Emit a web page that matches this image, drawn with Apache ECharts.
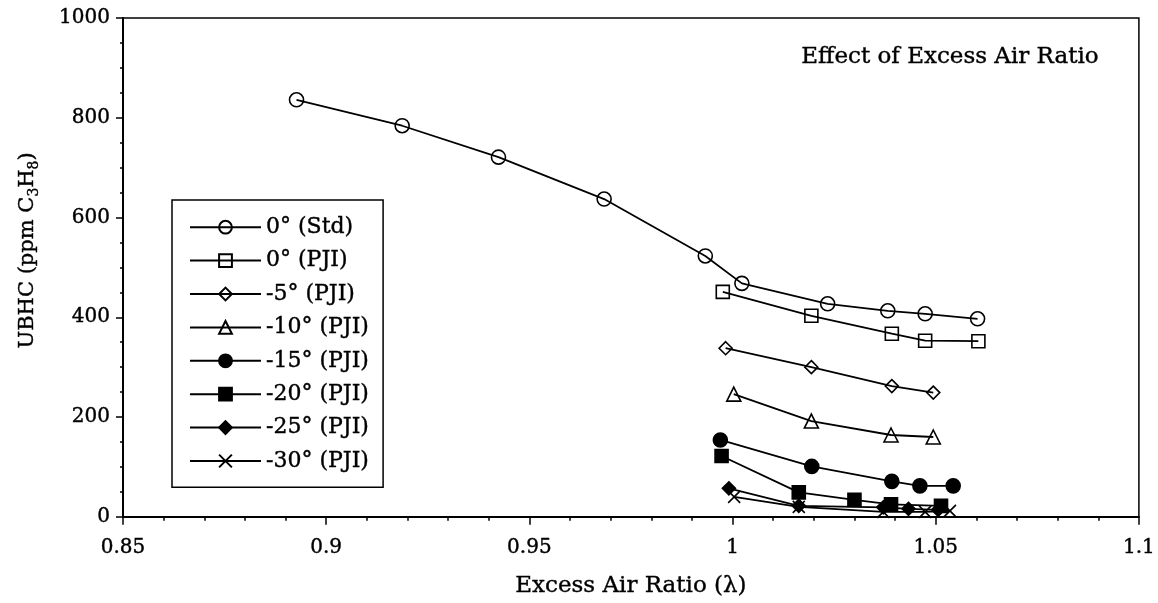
<!DOCTYPE html>
<html>
<head>
<meta charset="utf-8">
<script src="https://cdn.jsdelivr.net/npm/echarts@6/dist/echarts.min.js"></script>
<style>
  html, body { margin: 0; background: #fff; }
  #chart { width: 1158px; height: 603px; }
</style>
</head>
<body>
<div id="chart"></div>
<script>
// data
const seriesNames = ['0° (Std)', '0° (PJI)', '-5° (PJI)', '-10° (PJI)', '-15° (PJI)', '-20° (PJI)', '-25° (PJI)', '-30° (PJI)'];

const std0X = [0.8927, 0.9187, 0.9424, 0.9684, 0.9933, 1.0023, 1.0234, 1.0382, 1.0474, 1.0603];
const std0Y = [836, 784, 721, 637, 523, 468, 427, 413, 407, 397];

const pji0X = [0.9976, 1.0194, 1.0392, 1.0474, 1.0605];
const pji0Y = [451, 403, 367, 353, 352];

const pji5X = [0.9983, 1.0194, 1.0392, 1.0494];
const pji5Y = [338, 300, 262, 249];

const pji10X = [1.0003, 1.0194, 1.039, 1.0494];
const pji10Y = [246, 192, 164, 160];

const pji15X = [0.997, 1.0195, 1.0392, 1.0461, 1.0543];
const pji15Y = [154, 101, 71, 62, 62];

const pji20X = [0.9973, 1.0163, 1.03, 1.039, 1.0513];
const pji20Y = [122, 49, 34, 25, 22];

const pji25X = [0.9991, 1.0163, 1.0371, 1.0433, 1.0506];
const pji25Y = [57, 22, 19, 16, 14];

const pji30X = [1.0004, 1.0163, 1.0371, 1.0474, 1.0535];
const pji30Y = [40, 20, 10, 10, 12];

const xTicks = ['0.85', '0.9', '0.95', '1', '1.05', '1.1'];
const yTicks = ['0', '200', '400', '600', '800', '1000'];

const FONT = 'DejaVu Serif';
const clear = 'rgba(255,255,255,0)';
const crossPath = 'path://M0,0L10,10M10,0L0,10';
// scanned text looks a bit heavier than regular weight
const heavy = { textBorderColor: '#000', textBorderWidth: 0.4 };

function pairs(xs, ys) {
  let out = [];
  for (let i = 0; i < xs.length; i++) out.push([xs[i], ys[i]]);
  return out;
}

// symbol, size, filled?
const looks = [
  ['circle', 14, false],
  ['rect', 13, false],
  ['diamond', 13, false],
  ['triangle', 14, false],
  ['circle', 14, true],
  ['rect', 13, true],
  ['diamond', 13, true],
  [crossPath, 12, false]
];
const allData = [
  pairs(std0X, std0Y), pairs(pji0X, pji0Y), pairs(pji5X, pji5Y), pairs(pji10X, pji10Y),
  pairs(pji15X, pji15Y), pairs(pji20X, pji20Y), pairs(pji25X, pji25Y), pairs(pji30X, pji30Y)
];

let series = [];
for (let i = 0; i < seriesNames.length; i++) {
  series.push({
    name: seriesNames[i],
    type: 'line',
    data: allData[i],
    symbol: looks[i][0],
    symbolSize: looks[i][1],
    showAllSymbol: true,
    lineStyle: { color: '#000', width: 1.8 },
    itemStyle: {
      color: looks[i][2] ? '#000' : clear,
      borderColor: '#000',
      borderWidth: 1.6
    },
    emphasis: { disabled: true },
    z: 10 - i
  });
}

const myChart = echarts.init(document.getElementById('chart'));
const option = {
  animation: false,
  title: {
    text: 'Effect of Excess Air Ratio',
    right: 54,
    top: 41,
    textStyle: Object.assign({ fontFamily: FONT, fontSize: 23, fontWeight: 'normal', color: '#000' }, heavy)
  },
  legend: {
    orient: 'vertical',
    left: 172,
    top: 200,
    padding: [16, 14, 15, 17],
    borderColor: '#000',
    borderWidth: 1.5,
    itemWidth: 71,
    itemHeight: 16,
    itemGap: 11,
    selectedMode: false,
    data: seriesNames,
    textStyle: Object.assign({ fontFamily: FONT, fontSize: 22, color: '#000', lineHeight: 22 }, heavy)
  },
  grid: {
    left: 123,
    right: 17,
    top: 18,
    bottom: 86,
    show: true,
    borderColor: '#000',
    borderWidth: 1.5
  },
  xAxis: {
    type: 'value',
    min: 0.85,
    max: 1.1,
    interval: 0.05,
    name: 'Excess Air Ratio (λ)',
    nameLocation: 'middle',
    nameGap: 58,
    nameTextStyle: Object.assign({ fontFamily: FONT, fontSize: 23, color: '#000' }, heavy),
    axisLine: { onZero: false, lineStyle: { color: '#000', width: 2 } },
    axisTick: { length: 8, lineStyle: { color: '#000', width: 1.5 } },
    minorTick: { show: true, splitNumber: 5, length: 4, lineStyle: { color: '#000', width: 1.5 } },
    splitLine: { show: false },
    axisLabel: Object.assign({
      fontFamily: FONT, fontSize: 20, color: '#000', margin: 21,
      formatter: function (v) { return xTicks[Math.round((v - 0.85) / 0.05)]; }
    }, heavy)
  },
  yAxis: {
    type: 'value',
    min: 0,
    max: 1000,
    interval: 200,
    name: '{t|UBHC (ppm C}{s|3}{t|H}{s|8}{t|)}',
    nameLocation: 'middle',
    nameGap: 82,
    nameTextStyle: {
      color: '#000',
      padding: [0, 0, 0, 34],
      rich: {
        t: Object.assign({ fontFamily: FONT, fontSize: 21, color: '#000' }, heavy),
        s: Object.assign({ fontFamily: FONT, fontSize: 14, color: '#000', padding: [13, 0, 0, 0] }, heavy)
      }
    },
    axisLine: { lineStyle: { color: '#000', width: 2 } },
    axisTick: { length: 7, lineStyle: { color: '#000', width: 1.5 } },
    minorTick: { show: true, splitNumber: 4, length: 3, lineStyle: { color: '#000', width: 1.5 } },
    splitLine: { show: false },
    axisLabel: Object.assign({
      fontFamily: FONT, fontSize: 20, color: '#000', margin: 13,
      formatter: function (v) { return yTicks[Math.round(v / 200)]; }
    }, heavy)
  },
  series: series
};
myChart.setOption(option);
</script>
</body>
</html>
